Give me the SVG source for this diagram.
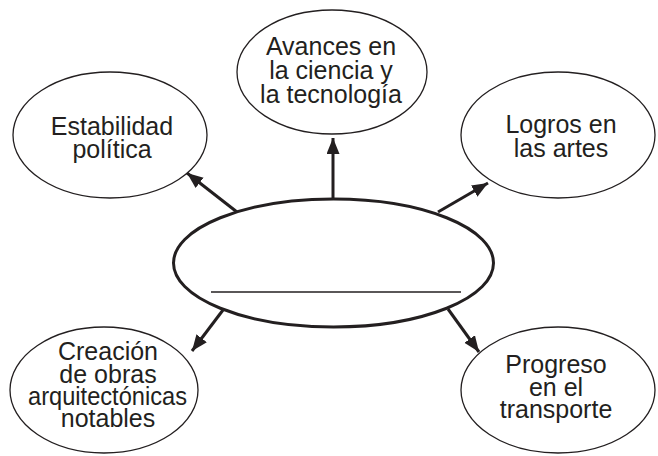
<svg xmlns="http://www.w3.org/2000/svg" width="658" height="456" viewBox="0 0 658 456">
<style>
.node{fill:#fff;stroke:#231f20;stroke-width:1.3}
.center{fill:#fff;stroke:#231f20;stroke-width:3}
.lbl{font-family:"Liberation Sans",Arial,sans-serif;font-size:25px;fill:#231f20;text-anchor:middle}
.conn{stroke:#231f20;stroke-width:3;fill:none;marker-end:url(#ah)}
</style>
<defs>
<marker id="ah" markerUnits="userSpaceOnUse" markerWidth="17" markerHeight="14" refX="16" refY="6.5" orient="auto">
<path d="M0,0 L16,6.5 L0,13 z" fill="#231f20"/>
</marker>
</defs>
<g id="connectors">
<line class="conn" x1="333" y1="199" x2="333" y2="138"/>
<line class="conn" x1="237" y1="212" x2="187" y2="173"/>
<line class="conn" x1="438" y1="212" x2="488" y2="183"/>
<line class="conn" x1="223" y1="310" x2="192" y2="351"/>
<line class="conn" x1="448" y1="309" x2="479" y2="352"/>
</g>
<g id="center">
<ellipse class="center" cx="333.5" cy="263" rx="160" ry="64"/>
<line x1="211" y1="292" x2="461" y2="292" stroke="#231f20" stroke-width="1.5"/>
</g>
<g id="n-ciencia">
<ellipse class="node" cx="332" cy="72" rx="95" ry="62"/>
<text class="lbl" x="331" y="55">Avances en</text>
<text class="lbl" x="331" y="79">la ciencia y</text>
<text class="lbl" x="331" y="103">la tecnología</text>
</g>
<g id="n-estabilidad">
<ellipse class="node" cx="110" cy="135" rx="97" ry="63"/>
<text class="lbl" x="112" y="135">Estabilidad</text>
<text class="lbl" x="112" y="158">política</text>
</g>
<g id="n-logros">
<ellipse class="node" cx="558" cy="135" rx="97" ry="63"/>
<text class="lbl" x="561" y="133">Logros en</text>
<text class="lbl" x="561" y="157">las artes</text>
</g>
<g id="n-creacion">
<ellipse class="node" cx="104" cy="390" rx="94" ry="63"/>
<text class="lbl" x="108" y="360">Creación</text>
<text class="lbl" x="108" y="383">de obras</text>
<text class="lbl" x="107.5" y="405" textLength="159" lengthAdjust="spacingAndGlyphs">arquitectónicas</text>
<text class="lbl" x="108" y="427">notables</text>
</g>
<g id="n-transporte">
<ellipse class="node" cx="558" cy="390" rx="97" ry="63"/>
<text class="lbl" x="556" y="373">Progreso</text>
<text class="lbl" x="556" y="396">en el</text>
<text class="lbl" x="556" y="418">transporte</text>
</g>
</svg>
